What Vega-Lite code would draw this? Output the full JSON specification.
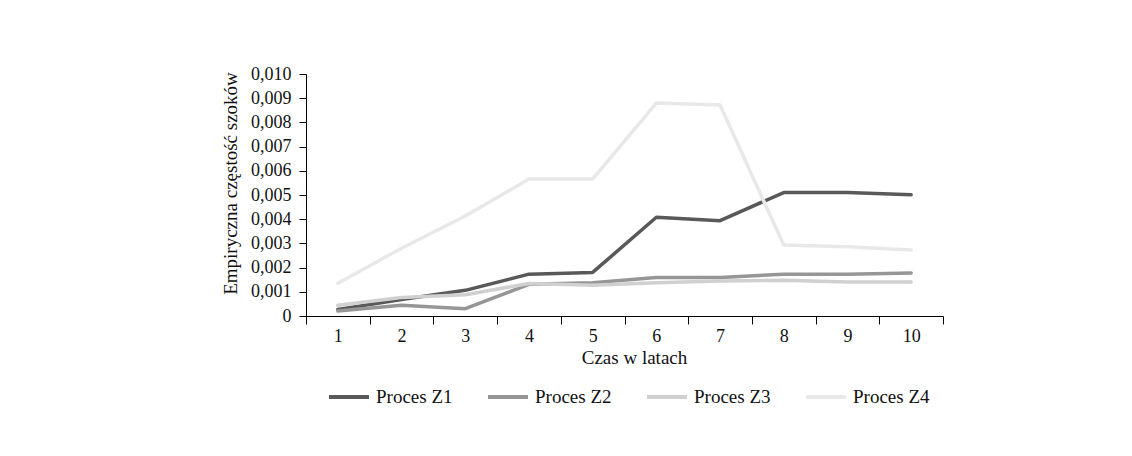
{
  "$schema": "https://vega.github.io/schema/vega-lite/v6.json",
  "autosize": {"type": "none"},
  "width": 637,
  "height": 242,
  "padding": {"left": 306, "top": 74, "right": 189, "bottom": 140},
  "background": "white",
  "config": {
    "font": "Liberation Serif",
    "view": {"stroke": null},
    "axis": {"labelFont": "Liberation Serif", "titleFont": "Liberation Serif", "labelColor": "#111", "titleColor": "#111", "domainColor": "#000", "tickColor": "#000", "grid": false, "titleFontWeight": "normal"},
    "legend": {"labelFont": "Liberation Serif"}
  },
  "data": {
    "values": [
      {"t": 1, "s": "Proces Z1", "v": 0.00027}, {"t": 2, "s": "Proces Z1", "v": 0.00068}, {"t": 3, "s": "Proces Z1", "v": 0.00106}, {"t": 4, "s": "Proces Z1", "v": 0.00173}, {"t": 5, "s": "Proces Z1", "v": 0.0018}, {"t": 6, "s": "Proces Z1", "v": 0.00408}, {"t": 7, "s": "Proces Z1", "v": 0.00394}, {"t": 8, "s": "Proces Z1", "v": 0.0051}, {"t": 9, "s": "Proces Z1", "v": 0.0051}, {"t": 10, "s": "Proces Z1", "v": 0.00501},
      {"t": 1, "s": "Proces Z2", "v": 0.00021}, {"t": 2, "s": "Proces Z2", "v": 0.00044}, {"t": 3, "s": "Proces Z2", "v": 0.0003}, {"t": 4, "s": "Proces Z2", "v": 0.00131}, {"t": 5, "s": "Proces Z2", "v": 0.00137}, {"t": 6, "s": "Proces Z2", "v": 0.00159}, {"t": 7, "s": "Proces Z2", "v": 0.00159}, {"t": 8, "s": "Proces Z2", "v": 0.00173}, {"t": 9, "s": "Proces Z2", "v": 0.00173}, {"t": 10, "s": "Proces Z2", "v": 0.00178},
      {"t": 1, "s": "Proces Z3", "v": 0.00044}, {"t": 2, "s": "Proces Z3", "v": 0.00076}, {"t": 3, "s": "Proces Z3", "v": 0.00088}, {"t": 4, "s": "Proces Z3", "v": 0.00134}, {"t": 5, "s": "Proces Z3", "v": 0.00127}, {"t": 6, "s": "Proces Z3", "v": 0.00137}, {"t": 7, "s": "Proces Z3", "v": 0.00145}, {"t": 8, "s": "Proces Z3", "v": 0.00148}, {"t": 9, "s": "Proces Z3", "v": 0.00141}, {"t": 10, "s": "Proces Z3", "v": 0.00141},
      {"t": 1, "s": "Proces Z4", "v": 0.00135}, {"t": 2, "s": "Proces Z4", "v": 0.0028}, {"t": 3, "s": "Proces Z4", "v": 0.00413}, {"t": 4, "s": "Proces Z4", "v": 0.00566}, {"t": 5, "s": "Proces Z4", "v": 0.00566}, {"t": 6, "s": "Proces Z4", "v": 0.0088}, {"t": 7, "s": "Proces Z4", "v": 0.00872}, {"t": 8, "s": "Proces Z4", "v": 0.00293}, {"t": 9, "s": "Proces Z4", "v": 0.00286}, {"t": 10, "s": "Proces Z4", "v": 0.00273}
    ]
  },
  "mark": {"type": "line", "strokeWidth": 3.5, "strokeJoin": "round", "strokeCap": "round"},
  "encoding": {
    "x": {
      "field": "t", "type": "quantitative",
      "scale": {"domain": [0.5, 10.5], "nice": false, "zero": false},
      "axis": {
        "title": "Czas w latach", "titleFont": "Liberation Serif", "titleFontSize": 19, "titlePadding": 3, "titleX": 328,
        "values": [0.5, 1, 1.5, 2, 2.5, 3, 3.5, 4, 4.5, 5, 5.5, 6, 6.5, 7, 7.5, 8, 8.5, 9, 9.5, 10, 10.5],
        "labelExpr": "datum.value % 1 == 0 ? datum.value : ''",
        "tickOpacity": {"condition": {"test": "datum.value % 1 == 0", "value": 0}, "value": 1},
        "tickSize": 8, "labelFont": "Liberation Serif", "labelFontSize": 18, "labelPadding": 3, "labelFlush": false, "labelOverlap": false
      }
    },
    "y": {
      "field": "v", "type": "quantitative",
      "scale": {"domain": [0, 0.01], "nice": false},
      "axis": {
        "title": "Empiryczna częstość szoków", "titleFont": "Liberation Serif", "titleFontSize": 19, "titlePadding": 10, "titleY": 109,
        "values": [0, 0.001, 0.002, 0.003, 0.004, 0.005, 0.006, 0.007, 0.008, 0.009, 0.01],
        "labelExpr": "datum.value == 0 ? '0' : replace(format(datum.value, '.3f'), '.', ',')",
        "tickSize": 7, "labelFont": "Liberation Serif", "labelFontSize": 18, "labelPadding": 8
      }
    },
    "color": {
      "field": "s", "type": "nominal",
      "scale": {"domain": ["Proces Z1", "Proces Z2", "Proces Z3", "Proces Z4"], "range": ["#595959", "#969696", "#d0d0d0", "#e8e8e8"]},
      "legend": {
        "title": null, "orient": "none", "direction": "horizontal",
        "legendX": 21, "legendY": 301,
        "symbolType": "stroke", "symbolSize": 1600, "symbolStrokeWidth": 4,
        "labelFontSize": 19, "labelFont": "Liberation Serif", "labelColor": "#111",
        "labelOffset": 5, "columnPadding": 27, "padding": 0
      }
    }
  }
}
